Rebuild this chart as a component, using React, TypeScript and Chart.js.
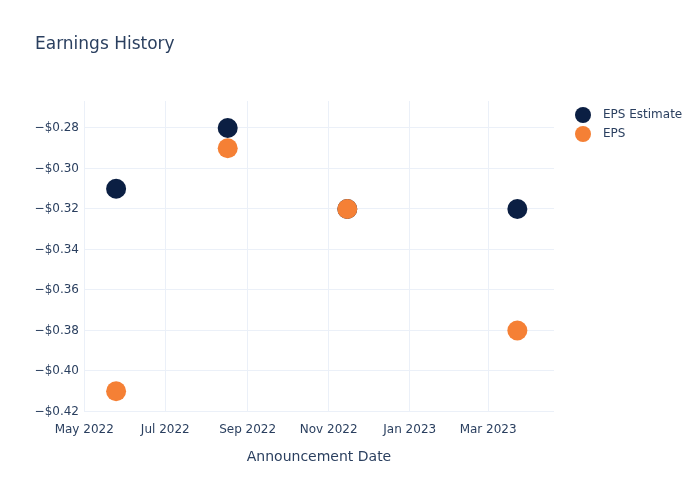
import React, { useEffect, useRef } from "react";
import { Chart, registerables } from "chart.js";

Chart.register(...registerables);

const chartTitle = "Earnings History";
const xAxisTitle = "Announcement Date";
const announcementDates = ["2022-05-25", "2022-08-17", "2022-11-15", "2023-03-23"];
const epsEstimate = [-0.31, -0.28, -0.32, -0.32];
const epsActual = [-0.41, -0.29, -0.32, -0.38];
const seriesNames = ["EPS Estimate", "EPS"];
const seriesColors = ["#0b1f43", "#f58035"];
const xTickDates = ["2022-05-01", "2022-07-01", "2022-09-01", "2022-11-01", "2023-01-01", "2023-03-01"];
const yTickValues = [-0.28, -0.3, -0.32, -0.34, -0.36, -0.38, -0.4, -0.42];
const xRange = ["2022-04-30T20:00:00Z", "2023-04-19T14:00:00Z"];
const yRange = [-0.42025, -0.26667];

const MONTHS = ["Jan", "Feb", "Mar", "Apr", "May", "Jun", "Jul", "Aug", "Sep", "Oct", "Nov", "Dec"];
const FONT = "'DejaVu Sans', sans-serif";
const TEXT = "#2a3f5f";
const GRID = "#ebf0f8";

const ts = (s: string) => new Date(s.length === 10 ? s + "T00:00:00Z" : s).getTime();

const overlayPlugin = {
  id: "overlay",
  afterDraw(chart: any) {
    const ctx = chart.ctx;
    ctx.save();
    ctx.fillStyle = TEXT;
    ctx.font = `17px ${FONT}`;
    ctx.textBaseline = "middle";
    ctx.textAlign = "left";
    ctx.fillText(chartTitle, 35, 45);
    const lx = 583;
    const ly = 115;
    chart.data.datasets.forEach((ds: any, i: number) => {
      const y = ly + i * 19;
      ctx.beginPath();
      ctx.arc(lx, y, 8, 0, Math.PI * 2);
      ctx.fillStyle = ds.backgroundColor;
      ctx.fill();
      ctx.fillStyle = TEXT;
      ctx.font = `12px ${FONT}`;
      ctx.fillText(ds.label, 603, y);
    });
    ctx.restore();
  },
};

export default function App() {
  const ref = useRef<HTMLCanvasElement | null>(null);
  useEffect(() => {
    if (!ref.current) return;
    const xs = announcementDates.map(ts);
    const chart = new Chart(ref.current, {
      type: "scatter",
      data: {
        datasets: [
          {
            label: seriesNames[0],
            data: xs.map((x, i) => ({ x, y: epsEstimate[i] })),
            backgroundColor: seriesColors[0],
            borderColor: seriesColors[0],
            pointRadius: 10,
            pointBorderWidth: 0,
            order: 1,
          },
          {
            label: seriesNames[1],
            data: xs.map((x, i) => ({ x, y: epsActual[i] })),
            backgroundColor: seriesColors[1],
            borderColor: seriesColors[1],
            pointRadius: 10,
            pointBorderWidth: 0,
            order: 0,
          },
        ],
      },
      options: {
        responsive: false,
        animation: false,
        layout: { padding: { top: 101, right: 146, left: 0, bottom: 0 } },
        plugins: {
          legend: { display: false },
          title: { display: false },
          tooltip: { enabled: false },
        },
        scales: {
          x: {
            type: "linear",
            min: ts(xRange[0]),
            max: ts(xRange[1]),
            afterBuildTicks: (scale: any) => {
              scale.ticks = xTickDates.map((d) => ({ value: ts(d) }));
            },
            afterFit: (scale: any) => {
              scale.height = 88;
            },
            ticks: {
              color: TEXT,
              font: { family: FONT, size: 12 },
              padding: 11,
              maxRotation: 0,
              autoSkip: false,
              callback: (v: any) => {
                const d = new Date(Number(v));
                return `${MONTHS[d.getUTCMonth()]} ${d.getUTCFullYear()}`;
              },
            },
            grid: { color: GRID, drawTicks: false, lineWidth: 1 },
            border: { display: false },
            title: {
              display: true,
              text: xAxisTitle,
              color: TEXT,
              font: { family: FONT, size: 14 },
              padding: { top: 0, bottom: 34.6 },
            },
          },
          y: {
            type: "linear",
            min: yRange[0],
            max: yRange[1],
            afterBuildTicks: (scale: any) => {
              scale.ticks = yTickValues.map((v) => ({ value: v }));
            },
            afterFit: (scale: any) => {
              scale.width = 84;
            },
            ticks: {
              color: TEXT,
              font: { family: FONT, size: 12 },
              padding: 5,
              autoSkip: false,
              callback: (v: any) => {
                const n = Number(v);
                return (n < 0 ? "\u2212" : "") + "$" + Math.abs(n).toFixed(2);
              },
            },
            grid: { color: GRID, drawTicks: false, lineWidth: 1 },
            border: { display: false },
          },
        },
      },
      plugins: [overlayPlugin],
    } as any);
    return () => chart.destroy();
  }, []);
  return (
    <div style={{ position: "absolute", left: 0, top: 0, width: 700, height: 500, background: "#fff" }}>
      <canvas ref={ref} width={700} height={500} style={{ display: "block" }} />
    </div>
  );
}
